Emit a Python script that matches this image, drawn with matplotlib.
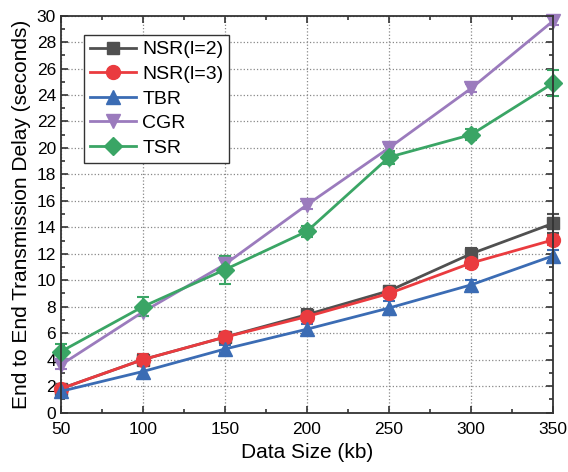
import matplotlib
matplotlib.use("Agg")
import matplotlib.pyplot as plt
from matplotlib.ticker import MultipleLocator

plt.rcParams['font.family'] = ['Liberation Sans', 'DejaVu Sans']

# data size (kb)
sizes = [50, 100, 150, 200, 250, 300, 350]

# end to end transmission delay (seconds)
nsr2 = [1.8, 4.0, 5.7, 7.4, 9.2, 12.0, 14.3]
nsr3 = [1.8, 4.0, 5.7, 7.25, 9.0, 11.3, 13.05]
tbr = [1.6, 3.1, 4.8, 6.3, 7.9, 9.65, 11.85]
cgr = [3.6, 7.6, 11.2, 15.7, 20.0, 24.5, 29.6]
tsr = [4.6, 8.0, 10.8, 13.7, 19.3, 21.0, 24.9]

nsr2_err = [0.3, 0.4, 0.4, 0.4, 0.4, 0.4, 0.7]
nsr3_err = [0.3, 0.4, 0.3, 0.3, 0.3, 0.4, 0.4]
tbr_err = [0.4, 0.5, 0.3, 0.4, 0.5, 0.4, 0.4]
cgr_err = [0.3, 0.3, 0.3, 0.3, 0.3, 0.3, 0.3]
tsr_err = [0.6, 0.7, 1.05, 0.4, 0.5, 0.4, 1.0]

series = [
    ("NSR(l=2)", nsr2, nsr2_err, "#505050", "s", 9),
    ("NSR(l=3)", nsr3, nsr3_err, "#ea3b3f", "o", 10),
    ("TBR", tbr, tbr_err, "#3b6cb4", "^", 10),
    ("CGR", cgr, cgr_err, "#9b7bbd", "v", 10),
    ("TSR", tsr, tsr_err, "#3aa565", "D", 9),
]

fig, ax = plt.subplots(figsize=(5.68, 4.72), dpi=100)

handles = []
for name, y, err, col, mk, ms in series:
    c = ax.errorbar(sizes, y, yerr=err, color=col, marker=mk, markersize=ms,
                    linewidth=2, elinewidth=1.5, capsize=4, capthick=1.5,
                    clip_on=False)
    for art in c.lines[1] + c.lines[2]:
        art.set_clip_on(False)
    c.lines[0].set_label(name)
    handles.append(c.lines[0])

ax.set_xlim(50, 350)
ax.set_ylim(0, 30)
ax.xaxis.set_major_locator(MultipleLocator(50))
ax.xaxis.set_minor_locator(MultipleLocator(25))
ax.yaxis.set_major_locator(MultipleLocator(2))
ax.yaxis.set_minor_locator(MultipleLocator(1))
ax.tick_params(which='both', direction='in', top=True, right=True,
               labelsize=12.5, color='#333333')
ax.tick_params(axis='x', pad=7)
ax.tick_params(which='major', length=5, width=1.2)
ax.tick_params(which='minor', length=3, width=1.2)
ax.grid(True, which='major', linestyle=':', color='#888888', linewidth=0.9)

for sp in ax.spines.values():
    sp.set_linewidth(1.3)
    sp.set_color('#333333')

ax.set_xlabel("Data Size (kb)", fontsize=15)
ax.set_ylabel("End to End Transmission Delay (seconds)", fontsize=15)

leg = ax.legend(handles=handles, loc='upper left', bbox_to_anchor=(0.047, 0.951),
                borderaxespad=0, fontsize=14, fancybox=False,
                edgecolor='#333333', framealpha=1, handlelength=2.4,
                borderpad=0.3, labelspacing=0.36, handletextpad=0.3)
leg.get_frame().set_linewidth(1.0)

fig.subplots_adjust(left=0.107, right=0.974, top=0.967, bottom=0.126)
fig.savefig("out.png", dpi=100)
